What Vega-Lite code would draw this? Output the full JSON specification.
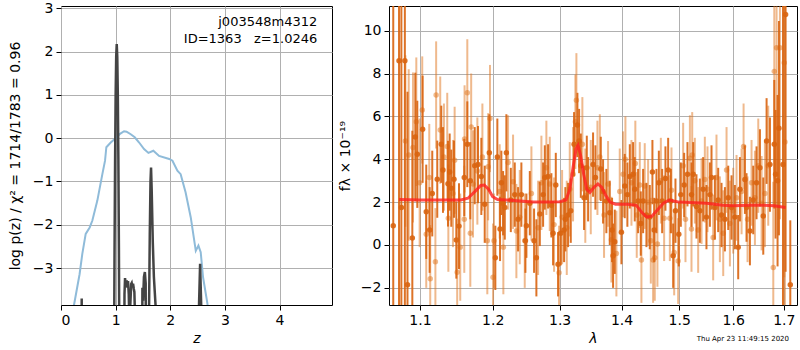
{
"$schema": "https://vega.github.io/schema/vega-lite/v6.json",
"background": "white",
"padding": {"left": 7, "top": 0, "right": 0, "bottom": 0},
"spacing": 4,
"config": {
 "font": "DejaVu Sans",
 "view": {"stroke": "black", "strokeWidth": 1},
 "axis": {"domain": false, "grid": true, "gridColor": "#b0b0b0", "gridWidth": 1, "tickColor": "black", "tickSize": 5, "labelFontSize": 14, "labelColor": "black", "titleFontSize": 14, "titleFontWeight": "normal", "titleColor": "black", "labelPadding": 3}
},
"datasets": {
 "chi": [{"z":0.20,"v":-4.5},{"z":0.238,"v":-3.85},{"z":0.34,"v":-3.14},{"z":0.39,"v":-2.67},{"z":0.452,"v":-2.21},{"z":0.525,"v":-2.06},{"z":0.574,"v":-1.9},{"z":0.665,"v":-1.44},{"z":0.757,"v":-0.83},{"z":0.806,"v":-0.52},{"z":0.83,"v":-0.21},{"z":0.91,"v":-0.1},{"z":1.0,"v":0.0},{"z":1.08,"v":0.1},{"z":1.154,"v":0.16},{"z":1.2,"v":0.15},{"z":1.276,"v":0.09},{"z":1.35,"v":0.02},{"z":1.43,"v":-0.1},{"z":1.52,"v":-0.25},{"z":1.6,"v":-0.34},{"z":1.69,"v":-0.29},{"z":1.795,"v":-0.41},{"z":1.98,"v":-0.48},{"z":2.04,"v":-0.52},{"z":2.13,"v":-0.75},{"z":2.19,"v":-0.83},{"z":2.28,"v":-1.25},{"z":2.375,"v":-1.83},{"z":2.467,"v":-2.6},{"z":2.515,"v":-2.48},{"z":2.557,"v":-2.63},{"z":2.60,"v":-3.21},{"z":2.68,"v":-3.82},{"z":2.72,"v":-4.3}],
 "pz": [{"z":0,"v":-12},{"z":0.37,"v":-12},{"z":0.379,"v":-3.70},{"z":0.388,"v":-12},{"z":0.96,"v":-12},{"z":0.97,"v":-5.2},{"z":0.98,"v":-2.57},{"z":0.99,"v":-0.5},{"z":1.0,"v":0.99},{"z":1.01,"v":1.87},{"z":1.02,"v":2.17},{"z":1.03,"v":1.87},{"z":1.04,"v":0.99},{"z":1.05,"v":-0.5},{"z":1.06,"v":-2.57},{"z":1.07,"v":-5.2},{"z":1.08,"v":-12},{"z":1.15,"v":-12},{"z":1.162,"v":-3.6},{"z":1.172,"v":-3.23},{"z":1.182,"v":-3.35},{"z":1.192,"v":-3.32},{"z":1.203,"v":-3.28},{"z":1.215,"v":-3.45},{"z":1.227,"v":-3.3},{"z":1.24,"v":-3.6},{"z":1.252,"v":-4.3},{"z":1.27,"v":-3.8},{"z":1.285,"v":-3.36},{"z":1.294,"v":-3.34},{"z":1.305,"v":-3.42},{"z":1.319,"v":-3.36},{"z":1.333,"v":-3.48},{"z":1.343,"v":-3.55},{"z":1.36,"v":-4.4},{"z":1.375,"v":-12},{"z":1.47,"v":-12},{"z":1.49,"v":-3.45},{"z":1.502,"v":-3.75},{"z":1.518,"v":-3.2},{"z":1.535,"v":-3.09},{"z":1.55,"v":-3.35},{"z":1.565,"v":-12},{"z":1.60,"v":-12},{"z":1.612,"v":-3.9},{"z":1.625,"v":-2.2},{"z":1.638,"v":-1.0},{"z":1.648,"v":-0.68},{"z":1.66,"v":-1.2},{"z":1.68,"v":-2.4},{"z":1.70,"v":-3.2},{"z":1.735,"v":-3.95},{"z":1.75,"v":-12},{"z":2.50,"v":-12},{"z":2.525,"v":-3.9},{"z":2.546,"v":-2.90},{"z":2.567,"v":-3.9},{"z":2.59,"v":-12},{"z":4.96,"v":-12}],
 "ann": [{"z":4.69,"v":2.67,"t":"j003548m4312"},{"z":4.69,"v":2.29,"t":"ID=1363\u00a0\u00a0\u00a0z=1.0246"}],
 "dark": [{"l":1.0654,"f":0.9,"e":12},{"l":1.0728,"f":8.6,"e":12},{"l":1.0758,"f":1.75,"e":10},{"l":1.0803,"f":8.6,"e":12},{"l":1.0837,"f":-1.85,"e":9},{"l":1.09,"f":0.33,"e":5},{"l":1.0939,"f":5.04,"e":3},{"l":1.0965,"f":4.23,"e":2.5},{"l":1.1035,"f":5.4,"e":2.5},{"l":1.1083,"f":1.55,"e":2.2},{"l":1.1128,"f":0.7,"e":2},{"l":1.1163,"f":2.4,"e":2},{"l":1.123,"f":3.07,"e":1.8},{"l":1.1284,"f":4.7,"e":1.8},{"l":1.1307,"f":3.5,"e":2},{"l":1.1375,"f":2.86,"e":2},{"l":1.1398,"f":3.4,"e":1.8},{"l":1.142,"f":2.65,"e":1.8},{"l":1.1457,"f":3.07,"e":1.8},{"l":1.1489,"f":0.23,"e":1.8},{"l":1.1526,"f":0.88,"e":2},{"l":1.1599,"f":3.15,"e":1.8},{"l":1.1641,"f":4.7,"e":2},{"l":1.1683,"f":3.0,"e":1.8},{"l":1.1745,"f":3.7,"e":1.8},{"l":1.1791,"f":3.75,"e":1.8},{"l":1.1838,"f":3.2,"e":1.8},{"l":1.1886,"f":1.9,"e":1.8},{"l":1.1952,"f":4.3,"e":1.8},{"l":1.2038,"f":-0.6,"e":1.5},{"l":1.2067,"f":4.1,"e":1.8},{"l":1.2106,"f":0.75,"e":1.5},{"l":1.2125,"f":2.9,"e":1.5},{"l":1.215,"f":1.95,"e":1.5},{"l":1.2175,"f":1.75,"e":1.5},{"l":1.2198,"f":4.3,"e":1.8},{"l":1.2263,"f":2.1,"e":1.5},{"l":1.2321,"f":2.35,"e":1.5},{"l":1.237,"f":1.2,"e":1.5},{"l":1.2419,"f":2.35,"e":1.5},{"l":1.2479,"f":0.2,"e":1.5},{"l":1.2494,"f":0.9,"e":1.5},{"l":1.2545,"f":1.95,"e":1.5},{"l":1.2609,"f":0.2,"e":1.5},{"l":1.2644,"f":-0.6,"e":1.8},{"l":1.2696,"f":1.45,"e":1.5},{"l":1.2746,"f":2.35,"e":1.5},{"l":1.2772,"f":3.15,"e":1.5},{"l":1.2822,"f":3.2,"e":1.5},{"l":1.2873,"f":1.85,"e":1.5},{"l":1.2899,"f":0.55,"e":1.5},{"l":1.2941,"f":2.8,"e":1.5},{"l":1.2976,"f":-0.9,"e":1.5},{"l":1.3018,"f":0.55,"e":1.5},{"l":1.307,"f":0.7,"e":1.5},{"l":1.309,"f":1.2,"e":1.5},{"l":1.3133,"f":1.4,"e":1.5},{"l":1.3175,"f":1.6,"e":1.5},{"l":1.3227,"f":4.7,"e":1.5},{"l":1.328,"f":5.6,"e":1.5},{"l":1.3307,"f":4.85,"e":1.5},{"l":1.3334,"f":3.7,"e":1.5},{"l":1.3386,"f":2.2,"e":1.5},{"l":1.343,"f":3.6,"e":1.5},{"l":1.3451,"f":2.6,"e":1.5},{"l":1.3531,"f":3.75,"e":1.5},{"l":1.3569,"f":3.15,"e":1.5},{"l":1.3657,"f":3.55,"e":1.5},{"l":1.3694,"f":2.5,"e":1.5},{"l":1.3748,"f":2.05,"e":1.5},{"l":1.3804,"f":1.5,"e":1.5},{"l":1.3842,"f":0.7,"e":1.5},{"l":1.3859,"f":-0.5,"e":1.5},{"l":1.3887,"f":0.15,"e":1.5},{"l":1.3998,"f":0.6,"e":1.5},{"l":1.4054,"f":2.75,"e":1.5},{"l":1.4098,"f":2.35,"e":1.5},{"l":1.4139,"f":3.2,"e":1.5},{"l":1.4195,"f":3.3,"e":1.5},{"l":1.4223,"f":2.6,"e":1.5},{"l":1.428,"f":2.05,"e":1.5},{"l":1.4326,"f":1.0,"e":1.5},{"l":1.4366,"f":2.05,"e":1.5},{"l":1.4423,"f":1.4,"e":1.5},{"l":1.4481,"f":1.3,"e":1.5},{"l":1.4527,"f":3.4,"e":1.5},{"l":1.4557,"f":0.7,"e":1.5},{"l":1.4597,"f":2.05,"e":1.5},{"l":1.4639,"f":2.9,"e":1.5},{"l":1.4697,"f":2.05,"e":1.5},{"l":1.4755,"f":3.1,"e":1.5},{"l":1.4803,"f":3.5,"e":1.5},{"l":1.4851,"f":2.05,"e":1.5},{"l":1.4892,"f":-0.5,"e":1.5},{"l":1.4933,"f":1.6,"e":1.5},{"l":1.4993,"f":0.5,"e":1.5},{"l":1.5029,"f":2.35,"e":1.5},{"l":1.5089,"f":2.8,"e":1.5},{"l":1.5149,"f":3.3,"e":1.5},{"l":1.5222,"f":2.35,"e":1.5},{"l":1.5253,"f":3.3,"e":1.5},{"l":1.5313,"f":1.8,"e":1.5},{"l":1.5375,"f":1.6,"e":1.5},{"l":1.5436,"f":2.6,"e":1.5},{"l":1.5497,"f":1.3,"e":1.5},{"l":1.5561,"f":2.35,"e":1.5},{"l":1.5591,"f":3.15,"e":1.5},{"l":1.5654,"f":1.75,"e":1.5},{"l":1.5716,"f":2.1,"e":1.5},{"l":1.5779,"f":1.4,"e":1.5},{"l":1.5843,"f":1.2,"e":1.5},{"l":1.5906,"f":2.2,"e":1.5},{"l":1.5969,"f":1.75,"e":1.5},{"l":1.6033,"f":1.3,"e":1.5},{"l":1.6097,"f":-0.1,"e":1.5},{"l":1.613,"f":2.6,"e":1.5},{"l":1.6227,"f":3.05,"e":1.6},{"l":1.6258,"f":1.75,"e":1.6},{"l":1.6324,"f":0.65,"e":1.6},{"l":1.6389,"f":2.1,"e":1.6},{"l":1.6454,"f":2.9,"e":1.7},{"l":1.6521,"f":3.6,"e":1.8},{"l":1.6587,"f":1.35,"e":1.8},{"l":1.6653,"f":4.85,"e":2},{"l":1.672,"f":3.75,"e":2.2},{"l":1.6807,"f":4.7,"e":3},{"l":1.6833,"f":3.3,"e":3},{"l":1.6873,"f":3.0,"e":4},{"l":1.6901,"f":5.45,"e":5},{"l":1.6983,"f":3.75,"e":8},{"l":1.7036,"f":10.75,"e":12},{"l":1.7132,"f":-1.85,"e":3}],
 "light": [{"l":1.081,"f":4.85,"e":4},{"l":1.0853,"f":4.2,"e":4},{"l":1.0909,"f":4.55,"e":3.5},{"l":1.0952,"f":5.75,"e":3},{"l":1.0996,"f":2.9,"e":3},{"l":1.103,"f":6.3,"e":2.5},{"l":1.1083,"f":0.5,"e":2.5},{"l":1.1123,"f":3.15,"e":2.5},{"l":1.1136,"f":-1.57,"e":2.5},{"l":1.1205,"f":-0.78,"e":2.5},{"l":1.1215,"f":7.0,"e":2.5},{"l":1.127,"f":5.36,"e":2.5},{"l":1.132,"f":4.1,"e":2.5},{"l":1.1365,"f":4.6,"e":2.5},{"l":1.138,"f":1.25,"e":2.5},{"l":1.1443,"f":2.4,"e":2.5},{"l":1.1466,"f":3.95,"e":2.5},{"l":1.1501,"f":-1.27,"e":2.5},{"l":1.1543,"f":-0.1,"e":2.5},{"l":1.1599,"f":1.2,"e":2.5},{"l":1.1603,"f":4.95,"e":2.5},{"l":1.1641,"f":7.1,"e":2.5},{"l":1.1683,"f":0.55,"e":2.5},{"l":1.1695,"f":5.5,"e":2.5},{"l":1.1721,"f":2.85,"e":2.5},{"l":1.1782,"f":3.45,"e":2.5},{"l":1.1853,"f":4.1,"e":2.5},{"l":1.1923,"f":0.2,"e":2.5},{"l":1.1935,"f":3.65,"e":2.5},{"l":1.1961,"f":5.9,"e":2.5},{"l":1.2005,"f":-1.5,"e":2.5},{"l":1.2019,"f":0.2,"e":2.2},{"l":1.2101,"f":2.5,"e":2.2},{"l":1.2154,"f":-0.1,"e":2.2},{"l":1.2223,"f":3.85,"e":2.2},{"l":1.2296,"f":2.95,"e":2.2},{"l":1.2345,"f":0.65,"e":2.2},{"l":1.2395,"f":1.3,"e":2.2},{"l":1.2469,"f":0.2,"e":2.2},{"l":1.2569,"f":2.4,"e":2.2},{"l":1.267,"f":0.8,"e":2.2},{"l":1.272,"f":2.9,"e":2.2},{"l":1.2796,"f":3.6,"e":2.2},{"l":1.2848,"f":2.85,"e":2.2},{"l":1.2914,"f":0.95,"e":2.2},{"l":1.2992,"f":-1.3,"e":2.2},{"l":1.3039,"f":1.3,"e":2.2},{"l":1.3112,"f":0.8,"e":2.2},{"l":1.3159,"f":2.6,"e":2.2},{"l":1.3211,"f":3.3,"e":2.2},{"l":1.3248,"f":5.75,"e":2.2},{"l":1.3264,"f":6.75,"e":2.2},{"l":1.3359,"f":4.7,"e":2.2},{"l":1.3406,"f":2.3,"e":2.2},{"l":1.3494,"f":2.7,"e":2.2},{"l":1.3602,"f":3.6,"e":2.2},{"l":1.3641,"f":4.1,"e":2},{"l":1.371,"f":1.4,"e":2},{"l":1.3776,"f":2.85,"e":2},{"l":1.3831,"f":0.25,"e":2},{"l":1.3914,"f":-0.4,"e":2},{"l":1.397,"f":2.5,"e":2},{"l":1.4026,"f":3.3,"e":2},{"l":1.4065,"f":4.0,"e":2},{"l":1.4167,"f":2.9,"e":2},{"l":1.4233,"f":3.8,"e":2},{"l":1.4257,"f":1.4,"e":2},{"l":1.4309,"f":2.8,"e":2},{"l":1.4337,"f":-0.7,"e":2},{"l":1.4394,"f":2.75,"e":2},{"l":1.4452,"f":2.0,"e":2},{"l":1.4499,"f":0.2,"e":2},{"l":1.4539,"f":-0.7,"e":2},{"l":1.4568,"f":-0.6,"e":2},{"l":1.4614,"f":0.05,"e":2},{"l":1.4674,"f":3.0,"e":2},{"l":1.4732,"f":1.25,"e":2},{"l":1.4833,"f":1.25,"e":2},{"l":1.4862,"f":2.55,"e":2},{"l":1.491,"f":-0.35,"e":2},{"l":1.4981,"f":-0.75,"e":2},{"l":1.5071,"f":3.7,"e":2},{"l":1.5113,"f":1.2,"e":2},{"l":1.5193,"f":4.05,"e":2},{"l":1.5222,"f":0.75,"e":2},{"l":1.5235,"f":4.2,"e":2},{"l":1.5283,"f":3.0,"e":2},{"l":1.5344,"f":0.7,"e":2},{"l":1.5406,"f":2.05,"e":2},{"l":1.5467,"f":3.05,"e":2},{"l":1.5516,"f":2.6,"e":2},{"l":1.5622,"f":0.35,"e":2},{"l":1.5684,"f":3.15,"e":2},{"l":1.5748,"f":1.2,"e":2},{"l":1.5811,"f":0.55,"e":2},{"l":1.5874,"f":3.5,"e":2},{"l":1.5938,"f":1.0,"e":2},{"l":1.6001,"f":1.6,"e":2},{"l":1.6065,"f":2.2,"e":2},{"l":1.6162,"f":2.5,"e":2},{"l":1.6201,"f":4.6,"e":2},{"l":1.6278,"f":1.2,"e":2},{"l":1.6356,"f":2.9,"e":2},{"l":1.6422,"f":2.2,"e":2.2},{"l":1.6488,"f":3.7,"e":2.2},{"l":1.6554,"f":1.95,"e":2.2},{"l":1.662,"f":2.4,"e":2.5},{"l":1.6686,"f":3.7,"e":2.8},{"l":1.6787,"f":-1.05,"e":4},{"l":1.6807,"f":8.1,"e":5},{"l":1.6853,"f":9.2,"e":6},{"l":1.6921,"f":9.2,"e":8},{"l":1.7009,"f":8.5,"e":10},{"l":1.7023,"f":4.8,"e":10}],
 "model": [{"l":1.0728,"f":2.12},{"l":1.10,"f":2.1},{"l":1.13,"f":2.1},{"l":1.155,"f":2.1},{"l":1.165,"f":2.18},{"l":1.175,"f":2.5},{"l":1.183,"f":2.78},{"l":1.188,"f":2.8},{"l":1.194,"f":2.6},{"l":1.2,"f":2.25},{"l":1.207,"f":2.12},{"l":1.22,"f":2.1},{"l":1.24,"f":2.05},{"l":1.26,"f":2.0},{"l":1.28,"f":2.0},{"l":1.30,"f":2.02},{"l":1.31,"f":2.1},{"l":1.316,"f":2.6},{"l":1.321,"f":3.6},{"l":1.326,"f":4.5},{"l":1.329,"f":4.65},{"l":1.333,"f":4.2},{"l":1.338,"f":3.3},{"l":1.343,"f":2.6},{"l":1.348,"f":2.45},{"l":1.355,"f":2.7},{"l":1.361,"f":2.85},{"l":1.367,"f":2.7},{"l":1.374,"f":2.3},{"l":1.381,"f":2.0},{"l":1.39,"f":1.9},{"l":1.41,"f":1.9},{"l":1.425,"f":1.85},{"l":1.435,"f":1.5},{"l":1.443,"f":1.3},{"l":1.452,"f":1.35},{"l":1.462,"f":1.65},{"l":1.472,"f":1.95},{"l":1.482,"f":2.1},{"l":1.49,"f":2.05},{"l":1.5,"f":2.0},{"l":1.52,"f":1.98},{"l":1.55,"f":1.95},{"l":1.58,"f":1.85},{"l":1.6,"f":1.83},{"l":1.63,"f":1.85},{"l":1.66,"f":1.85},{"l":1.68,"f":1.83},{"l":1.7036,"f":1.75}]
},
"hconcat": [
 {
  "width": 271, "height": 299,
  "layer": [
   {"data": {"name": "chi"}, "mark": {"type": "line", "color": "#8fbbd9", "strokeWidth": 2, "clip": true},
    "encoding": {
     "x": {"field": "z", "type": "quantitative", "scale": {"domain": [0, 4.96], "nice": false, "zero": false}, "axis": {"values": [0,1,2,3,4], "format": "d", "title": "z", "titleFontStyle": "italic"}},
     "y": {"field": "v", "type": "quantitative", "scale": {"domain": [-3.85, 3.05], "nice": false, "zero": false}, "axis": {"values": [-3,-2,-1,0,1,2,3], "title": "log p(z) / χ² = 1714/1783 = 0.96", "titlePadding": 10}}
    }},
   {"data": {"name": "pz"}, "mark": {"type": "line", "color": "#444444", "strokeWidth": 2.5, "clip": true},
    "encoding": {
     "x": {"field": "z", "type": "quantitative", "title": "z"},
     "y": {"field": "v", "type": "quantitative", "title": "log p(z) / χ² = 1714/1783 = 0.96"}
    }},
   {"data": {"name": "ann"}, "mark": {"type": "text", "align": "right", "baseline": "middle", "fontSize": 13, "color": "black"},
    "encoding": {
     "x": {"field": "z", "type": "quantitative", "title": "z"},
     "y": {"field": "v", "type": "quantitative", "title": "log p(z) / χ² = 1714/1783 = 0.96"},
     "text": {"field": "t"}
    }}
  ]
 },
 {
  "width": 408, "height": 299,
  "title": {"text": "Thu Apr 23 11:49:15 2020", "orient": "bottom", "anchor": "end", "frame": "group", "fontSize": 7, "fontWeight": "normal", "dx": -8, "offset": -10},
  "layer": [
   {"data": {"name": "light"}, "mark": {"type": "errorbar", "color": "#e0731c", "opacity": 0.5, "thickness": 2},
    "encoding": {
     "x": {"field": "l", "type": "quantitative", "scale": {"type": "log", "domain": [1.06, 1.727], "nice": false, "zero": false}, "axis": {"values": [1.1,1.2,1.3,1.4,1.5,1.6,1.7], "format": ".1f", "title": "λ", "titleFontStyle": "italic"}},
     "y": {"field": "f", "type": "quantitative", "scale": {"domain": [-2.8, 11.15], "nice": false, "zero": false, "clamp": true}, "axis": {"values": [-2,0,2,4,6,8,10], "title": "fλ × 10⁻¹⁹", "titlePadding": 8}},
     "yError": {"field": "e"}
    }},
   {"data": {"name": "light"}, "mark": {"type": "circle", "color": "#e0731c", "opacity": 0.5, "size": 30},
    "encoding": {
     "x": {"field": "l", "type": "quantitative", "title": "λ"},
     "y": {"field": "f", "type": "quantitative", "title": "fλ × 10⁻¹⁹"}
    }},
   {"data": {"name": "dark"}, "mark": {"type": "errorbar", "color": "#d9640f", "opacity": 0.9, "thickness": 2},
    "encoding": {
     "x": {"field": "l", "type": "quantitative", "title": "λ"},
     "y": {"field": "f", "type": "quantitative", "title": "fλ × 10⁻¹⁹"},
     "yError": {"field": "e"}
    }},
   {"data": {"name": "dark"}, "mark": {"type": "circle", "color": "#d9640f", "opacity": 0.9, "size": 30},
    "encoding": {
     "x": {"field": "l", "type": "quantitative", "title": "λ"},
     "y": {"field": "f", "type": "quantitative", "title": "fλ × 10⁻¹⁹"}
    }},
   {"data": {"name": "model"}, "mark": {"type": "line", "color": "#ff2020", "opacity": 0.8, "strokeWidth": 3},
    "encoding": {
     "x": {"field": "l", "type": "quantitative", "title": "λ"},
     "y": {"field": "f", "type": "quantitative", "title": "fλ × 10⁻¹⁹"}
    }},
   {"mark": {"type": "rule", "color": "black", "strokeDash": [2, 3], "strokeWidth": 1.5},
    "encoding": {"y": {"datum": 0}}}
  ]
 }
]
}
